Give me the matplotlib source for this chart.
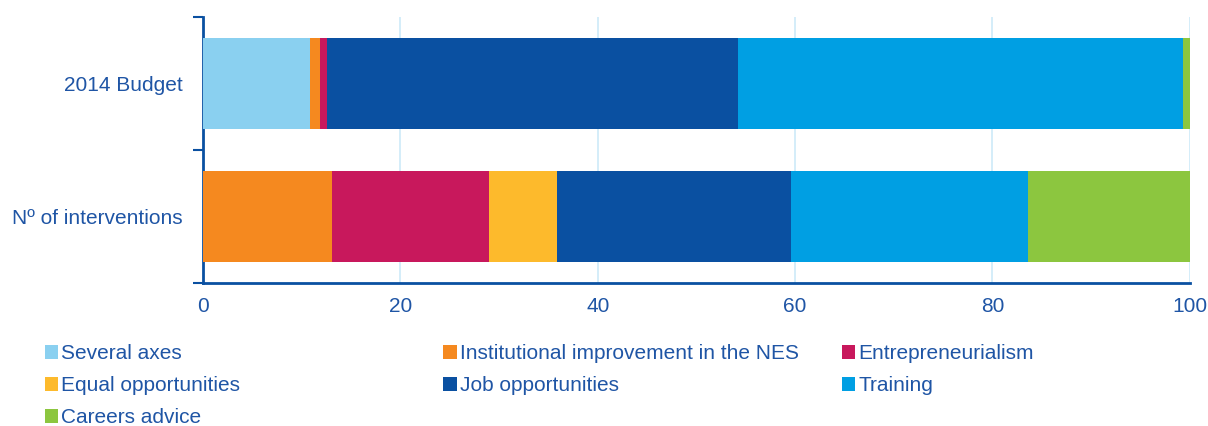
import numpy as np
import matplotlib.pyplot as plt

plt.rcParams['font.family'] = ['Liberation Sans', 'DejaVu Sans']

categories = ['2014 Budget', 'Nº of interventions']
series = ['Several axes', 'Institutional improvement in the NES', 'Entrepreneurialism',
          'Equal opportunities', 'Job opportunities', 'Training', 'Careers advice']
values = {
    'Several axes': [10.8, 0.0],
    'Institutional improvement in the NES': [1.1, 13.1],
    'Entrepreneurialism': [0.7, 15.9],
    'Equal opportunities': [0.0, 6.9],
    'Job opportunities': [41.6, 23.7],
    'Training': [45.1, 24.0],
    'Careers advice': [0.7, 16.4],
}
colors = ['#8ad0f0', '#f5891f', '#c8185c', '#fdba2c', '#0a50a1', '#009fe3', '#8cc63f']

text_col = '#1f55a5'
spine_col = '#0a50a1'

fig = plt.figure(figsize=(12.08, 4.26), dpi=100)
ax = fig.add_axes([0.168, 0.336, 0.817, 0.624])

y = np.arange(len(categories))
left = np.zeros(len(categories))
handles = []
for name, c in zip(series, colors):
    v = np.array(values[name])
    b = ax.barh(y, v, left=left, height=0.68, color=c, label=name, zorder=3)
    handles.append(b)
    left += v

ax.set_xlim(0, 100)
ax.set_ylim(1.5, -0.5)
ax.set_xticks(np.arange(0, 101, 20))
ax.set_xticks([0], minor=True)
ax.set_yticks(y)
ax.set_yticklabels(categories)
ax.set_yticks([-0.5, 0.5, 1.5], minor=True)
ax.tick_params(axis='y', which='major', length=0, pad=14.5, labelsize=15, labelcolor=text_col)
ax.tick_params(axis='y', which='minor', length=7, width=1.5, color=spine_col, direction='out')
ax.tick_params(axis='x', which='major', length=0, pad=10, labelsize=15, labelcolor=text_col)
ax.tick_params(axis='x', which='minor', length=5, width=1.5, color=spine_col, direction='out')
ax.grid(axis='x', color='#cdeaf8', linewidth=1.2, zorder=0)

for s in ['top', 'right']:
    ax.spines[s].set_visible(False)
for s in ['left', 'bottom']:
    ax.spines[s].set_color(spine_col)
    ax.spines[s].set_linewidth(2)

# legend in three columns
cols = [[0, 3, 6], [1, 4], [2, 5]]
xs = [0.030, 0.360, 0.690]
for idx, x0 in zip(cols, xs):
    leg = fig.legend([handles[i] for i in idx], [series[i] for i in idx],
                     loc='upper left', bbox_to_anchor=(x0, 0.211), frameon=False,
                     handlelength=0.65, handleheight=0.65, handletextpad=0.15,
                     labelspacing=0.62, fontsize=15, borderaxespad=0)
    for t in leg.get_texts():
        t.set_color(text_col)

fig.savefig('out.png', dpi=100)
